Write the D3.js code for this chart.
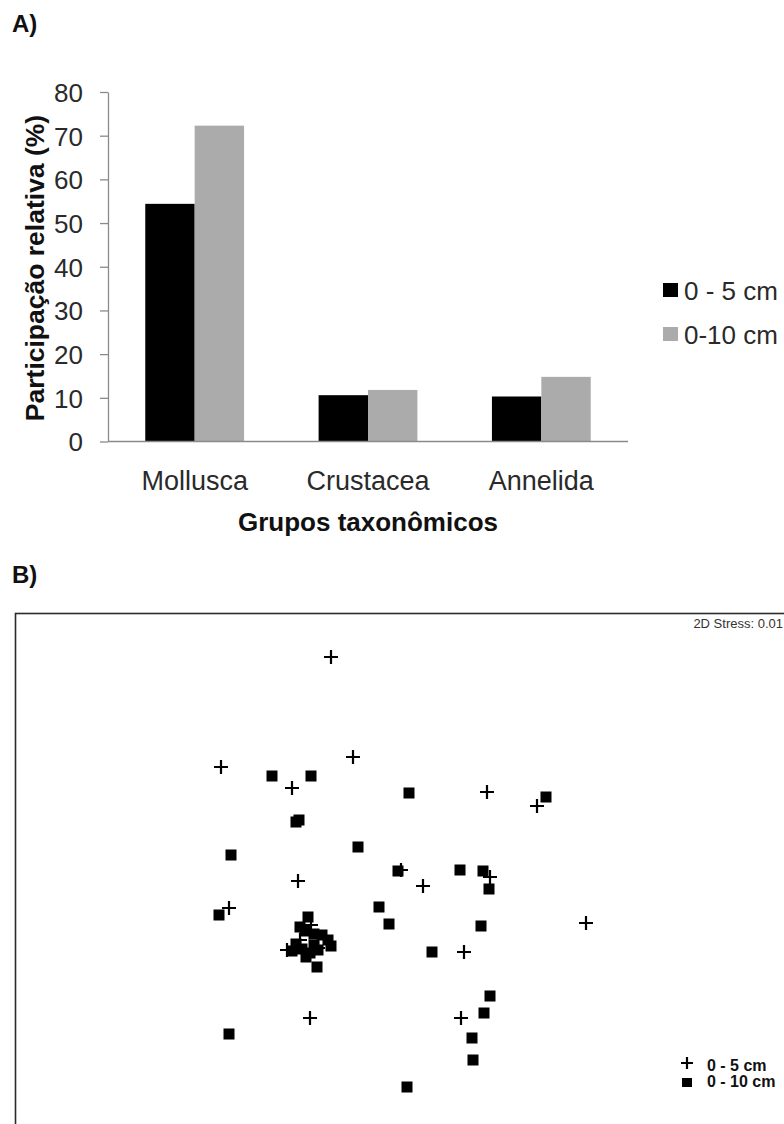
<!DOCTYPE html>
<html>
<head>
<meta charset="utf-8">
<script src="https://cdn.jsdelivr.net/npm/d3@7"></script>
<style>
  html, body { margin: 0; padding: 0; background: #fff; }
  svg { display: block; font-family: "Liberation Sans", Arial, sans-serif; }
</style>
</head>
<body>
<svg id="fig" width="784" height="1124"></svg>
<script>
// ---- Panel A: relative share of taxonomic groups ----
const groups = ["Mollusca", "Crustacea", "Annelida"];
const layers = ["0 - 5 cm", "0-10 cm"];
const share0to5 = [54.4, 10.6, 10.3];
const share0to10 = [72.3, 11.8, 14.8];
const yTicks = [0, 10, 20, 30, 40, 50, 60, 70, 80];

// ---- Panel B: NMDS ordination (MDS1, MDS2) ----
const nmdsLayers = ["0 - 5 cm", "0 - 10 cm"];
const nmds0to5 = [
  [-0.345, 1.065], [-0.895, 0.515], [-0.235, 0.565], [-0.54, 0.41],
  [0.435, 0.39], [0.685, 0.32], [-0.51, -0.055], [0.005, 0.0],
  [0.115, -0.08], [0.45, -0.035], [-0.855, -0.19], [0.93, -0.265],
  [0.32, -0.41], [-0.45, -0.74], [0.305, -0.74], [-0.565, -0.4],
  [-0.445, -0.275], [-0.41, -0.39], [-0.5, -0.35]
];
const nmds0to10 = [
  [-0.64, 0.47], [-0.445, 0.47], [0.045, 0.385], [-0.52, 0.24],
  [-0.505, 0.25], [0.73, 0.365], [-0.845, 0.075], [-0.21, 0.115],
  [-0.01, -0.005], [0.3, 0.0], [0.415, -0.005], [0.445, -0.095],
  [-0.105, -0.185], [-0.055, -0.27], [0.405, -0.28], [0.16, -0.41],
  [-0.905, -0.225], [0.45, -0.63], [0.42, -0.715], [0.36, -0.84],
  [0.365, -0.95], [0.035, -1.085], [-0.855, -0.82], [-0.415, -0.485],
  [-0.46, -0.235], [-0.5, -0.285], [-0.475, -0.305], [-0.43, -0.32],
  [-0.39, -0.325], [-0.36, -0.35], [-0.345, -0.38], [-0.52, -0.37],
  [-0.54, -0.405], [-0.49, -0.395], [-0.45, -0.415], [-0.41, -0.4],
  [-0.47, -0.435], [-0.43, -0.375]
];
const stressLabel = "2D Stress: 0.01";

const svg = d3.select("#fig");

// ================= Panel A =================
svg.append("text").attr("x", 12).attr("y", 32)
  .attr("font-size", 24).attr("font-weight", "bold").attr("fill", "#111").text("A)");

const ax0 = 108, ax1 = 628, yTop = 92, yBase = 441.5;
const x = d3.scaleBand().domain(groups).range([ax0, ax1]).paddingInner(0.43).paddingOuter(0.215);
const xs = d3.scaleBand().domain(layers).range([0, x.bandwidth()]);
const y = d3.scaleLinear().domain([0, 80]).range([yBase, yTop]);
const barColor = d3.scaleOrdinal().domain(layers).range(["#000000", "#ababab"]);

const rows = groups.map((g, i) => ({ g, vals: [share0to5[i], share0to10[i]] }));
const gBars = svg.append("g");
gBars.selectAll("g").data(rows).join("g")
  .attr("transform", d => `translate(${x(d.g)},0)`)
  .selectAll("rect").data(d => d.vals.map((v, k) => ({ k: layers[k], v })))
  .join("rect")
  .attr("x", d => xs(d.k)).attr("width", xs.bandwidth())
  .attr("y", d => y(d.v)).attr("height", d => y(0) - y(d.v))
  .attr("fill", d => barColor(d.k));

// y axis
const yAxis = svg.append("g").attr("transform", `translate(${ax0},0)`)
  .call(d3.axisLeft(y).tickValues(yTicks).tickSize(8).tickPadding(17).tickSizeOuter(0));
yAxis.select(".domain").attr("stroke", "#8a8a8a").attr("stroke-width", 1.3);
yAxis.selectAll(".tick line").attr("stroke", "#8a8a8a").attr("stroke-width", 1.3);
yAxis.selectAll(".tick text").attr("font-size", 26).attr("fill", "#2a2a2a")
  .attr("font-family", "Liberation Sans, Arial, sans-serif").attr("dy", "0.36em");

// x baseline
svg.append("line").attr("x1", ax0).attr("x2", ax1).attr("y1", yBase).attr("y2", yBase)
  .attr("stroke", "#8a8a8a").attr("stroke-width", 1.3);

// category labels
svg.append("g").selectAll("text").data(groups).join("text")
  .attr("x", d => x(d) + x.bandwidth() / 2).attr("y", 490)
  .attr("text-anchor", "middle").attr("font-size", 27).attr("fill", "#2a2a2a")
  .text(d => d);

// axis titles
svg.append("text").attr("x", (ax0 + ax1) / 2).attr("y", 531)
  .attr("text-anchor", "middle").attr("font-size", 26).attr("font-weight", "bold").attr("fill", "#111")
  .text("Grupos taxonômicos");
svg.append("text").attr("transform", `translate(44,268) rotate(-90)`)
  .attr("text-anchor", "middle").attr("font-size", 26.5).attr("font-weight", "bold").attr("fill", "#111")
  .text("Participação relativa (%)");

// legend
const legA = svg.append("g").selectAll("g").data(layers).join("g")
  .attr("transform", (d, i) => `translate(663,${283 + i * 44})`);
legA.append("rect").attr("width", 15).attr("height", 14).attr("fill", d => barColor(d));
legA.append("text").attr("x", 21).attr("y", 16.5).attr("font-size", 26).attr("fill", "#2a2a2a").text(d => d);

// ================= Panel B =================
svg.append("text").attr("x", 12).attr("y", 583)
  .attr("font-size", 24).attr("font-weight", "bold").attr("fill", "#111").text("B)");

// frame (runs off the right and bottom edges)
svg.append("rect").attr("x", 15.5).attr("y", 613.5).attr("width", 800).attr("height", 540)
  .attr("fill", "none").attr("stroke", "#2b2b2b").attr("stroke-width", 1.6);

svg.append("text").attr("x", 783).attr("y", 628).attr("text-anchor", "end")
  .attr("font-size", 13).attr("fill", "#333").text(stressLabel);

const mx = d3.scaleLinear().domain([-2, 2]).range([0, 800]);
const my = d3.scaleLinear().domain([-2, 2]).range([1270, 470]);

const plusPath = "M-7,0H7M0,-7V7";
svg.append("g").selectAll("path").data(nmds0to5).join("path")
  .attr("d", plusPath)
  .attr("transform", d => `translate(${mx(d[0])},${my(d[1])})`)
  .attr("stroke", "#000").attr("stroke-width", 2.2).attr("fill", "none");

const sq = 11;
svg.append("g").selectAll("rect").data(nmds0to10).join("rect")
  .attr("x", d => mx(d[0]) - sq / 2).attr("y", d => my(d[1]) - sq / 2)
  .attr("width", sq).attr("height", sq).attr("fill", "#000");

// legend
const legB = svg.append("g").attr("transform", "translate(687,1063)");
legB.append("path").attr("d", "M-6,0H6M0,-6V6").attr("stroke", "#000").attr("stroke-width", 2.2);
legB.append("rect").attr("x", -5).attr("y", 15).attr("width", 10).attr("height", 9).attr("fill", "#000");
legB.selectAll("text").data(nmdsLayers).join("text")
  .attr("x", 20).attr("y", (d, i) => 8 + i * 16)
  .attr("font-size", 16).attr("font-weight", "bold").attr("fill", "#111")
  .text(d => d);
</script>
</body>
</html>
